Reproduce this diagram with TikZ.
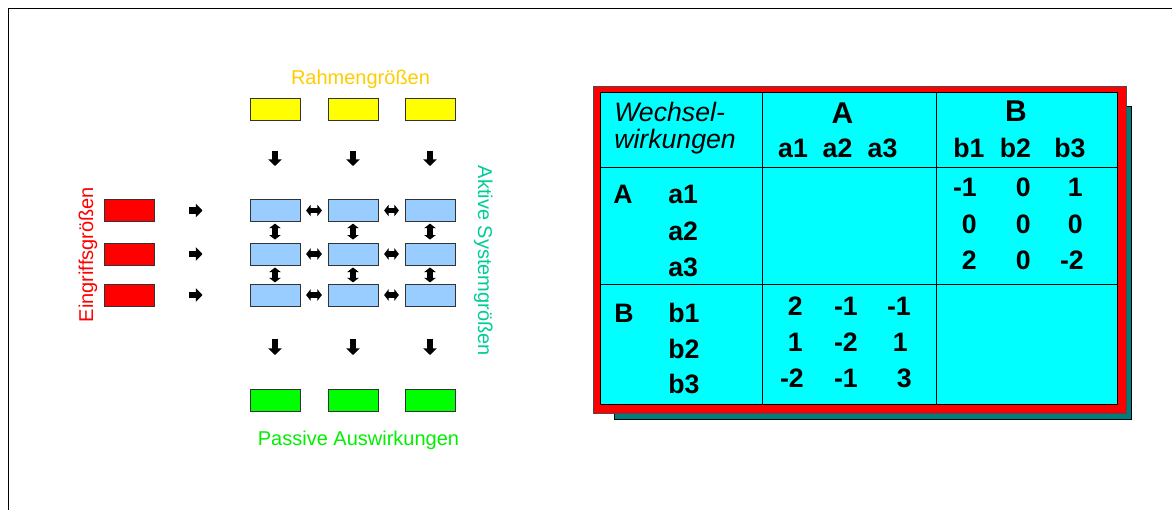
\documentclass[tikz,border=0pt]{standalone}
\usepackage{fontspec}
\setmainfont{Liberation Sans}
\usetikzlibrary{arrows.meta}
\definecolor{rahmenc}{RGB}{255,204,0}
\definecolor{aktivc}{RGB}{0,204,153}
\definecolor{passivc}{RGB}{0,240,0}
\definecolor{bluebox}{RGB}{153,204,255}
\definecolor{greenbox}{RGB}{0,255,0}
\definecolor{yellowbox}{RGB}{255,255,0}
\definecolor{redbox}{RGB}{255,0,0}
\definecolor{shadowc}{RGB}{0,125,125}
\definecolor{tablecyan}{RGB}{0,255,255}
\begin{document}
\begin{tikzpicture}[x=0.75pt,y=-0.75pt,
  box/.style={draw=black!80, line width=0.75pt, minimum width=37.5pt, minimum height=16.5pt, inner sep=0pt},
  lbl/.style={font=\fontsize{15}{18}\selectfont, inner sep=0pt},
  blk/.style={line width=4.6pt, -{Triangle[length=5pt,width=10pt]}},
  dbl/.style={line width=3.8pt, {Triangle[length=3.4pt,width=8.5pt]}-{Triangle[length=3.4pt,width=8.5pt]}},
  tb/.style={font=\fontsize{20}{24}\selectfont\bfseries, inner sep=0pt},
  th/.style={font=\fontsize{22.5}{27}\selectfont\bfseries, inner sep=0pt},
  ti/.style={font=\fontsize{20}{24}\selectfont\itshape, inner sep=0pt, anchor=base west},
  grid/.style={draw=black, line width=0.75pt}
]
\useasboundingbox (0,0) rectangle (1172,510);
\draw[line width=0.75pt] (8.5,510) -- (8.5,8.5) -- (1172,8.5);

% labels
\node[lbl, text=rahmenc, anchor=base] (lrahmen) at (360.5,85) {Rahmengrößen};
\node[lbl, text=passivc, anchor=base] (lpassiv) at (358.5,445) {Passive Auswirkungen};
\node[lbl, text=redbox, anchor=base, rotate=90] (leingriff) at (93,254.5) {Eingriffsgrößen};
\node[lbl, text=aktivc, anchor=base, rotate=-90] (laktiv) at (478,261) {Aktive Systemgrößen};

% boxes
\foreach \c/\x in {1/275,2/353,3/430}{
  \node[box, fill=yellowbox] (y\c) at (\x,109.5) {};
  \node[box, fill=greenbox] (g\c) at (\x,400.5) {};
  \foreach \r/\y in {1/210.5,2/254,3/295}{
    \node[box, fill=bluebox] (b\r\c) at (\x,\y) {};
  }
}
\foreach \r/\y in {1/210.5,2/254,3/295}{
  \node[box, fill=redbox] (r\r) at (129.5,\y) {};
  \draw[blk, shorten <=25.5pt, shorten >=35.25pt] (r\r) -- (b\r1);
  \draw[dbl, shorten <=4.2pt, shorten >=4.2pt] (b\r1) -- (b\r2);
  \draw[dbl, shorten <=4.2pt, shorten >=4.2pt] (b\r2) -- (b\r3);
}
\foreach \c in {1,2,3}{
  \draw[blk, shorten <=22.5pt, shorten >=24.75pt] (y\c) -- (b1\c);
  \draw[blk, shorten <=24pt, shorten >=25.5pt] (b3\c) -- (g\c);
  \draw[dbl, shorten <=1.2pt, shorten >=2.2pt] (b1\c) -- (b2\c);
  \draw[dbl, shorten <=1.5pt, shorten >=0.8pt] (b2\c) -- (b3\c);
}

% table
\draw[fill=shadowc, draw=black, line width=0.75pt] (614,107) rectangle (1131,419);
\draw[fill=red, draw=black!70, line width=0.75pt] (593,87) rectangle (1126,413);
\draw[fill=tablecyan, grid] (600,93) rectangle (1117,404);
\draw[grid] (762,93) -- (762,404);
\draw[grid] (936,93) -- (936,404);
\draw[grid] (600,167) -- (1117,167);
\draw[grid] (600,284) -- (1117,284);

\node[ti] (tw1) at (614,122) {Wechsel-};
\node[ti] (tw2) at (614,148) {wirkungen};
\node[th, anchor=base] (hA) at (842.5,123) {A};
\node[th, anchor=base] (hB) at (1016,122) {B};
\node[tb, anchor=base] (ha1) at (793,157) {a1};
\node[tb, anchor=base] (ha2) at (837.5,157) {a2};
\node[tb, anchor=base] (ha3) at (882.5,157) {a3};
\node[tb, anchor=base] (hb1) at (969,157) {b1};
\node[tb, anchor=base] (hb2) at (1015.5,157) {b2};
\node[tb, anchor=base] (hb3) at (1070,157) {b3};

\node[tb, anchor=base west] (rA) at (613,203) {A};
\node[tb, anchor=base west] (ra1) at (668,203) {a1};
\node[tb, anchor=base west] (ra2) at (668,240) {a2};
\node[tb, anchor=base west] (ra3) at (668,276) {a3};
\node[tb, anchor=base west] (rB) at (614,322) {B};
\node[tb, anchor=base west] (rb1) at (668,322) {b1};
\node[tb, anchor=base west] (rb2) at (668,358) {b2};
\node[tb, anchor=base west] (rb3) at (668,393) {b3};

% A-B block
\node[tb, anchor=base east] (n11) at (977,196) {-1};
\node[tb, anchor=base east] (n12) at (1031,196) {0};
\node[tb, anchor=base east] (n13) at (1083,196) {1};
\node[tb, anchor=base east] (n21) at (977,233) {0};
\node[tb, anchor=base east] (n22) at (1031,233) {0};
\node[tb, anchor=base east] (n23) at (1083,233) {0};
\node[tb, anchor=base east] (n31) at (977,269) {2};
\node[tb, anchor=base east] (n32) at (1031,269) {0};
\node[tb, anchor=base east] (n33) at (1084,269) {-2};
% B-A block
\node[tb, anchor=base east] (m11) at (803,315) {2};
\node[tb, anchor=base east] (m12) at (858,315) {-1};
\node[tb, anchor=base east] (m13) at (911,315) {-1};
\node[tb, anchor=base east] (m21) at (803,351) {1};
\node[tb, anchor=base east] (m22) at (858,351) {-2};
\node[tb, anchor=base east] (m23) at (908,351) {1};
\node[tb, anchor=base east] (m31) at (804,387) {-2};
\node[tb, anchor=base east] (m32) at (858,387) {-1};
\node[tb, anchor=base east] (m33) at (912,387) {3};
\end{tikzpicture}
\end{document}
